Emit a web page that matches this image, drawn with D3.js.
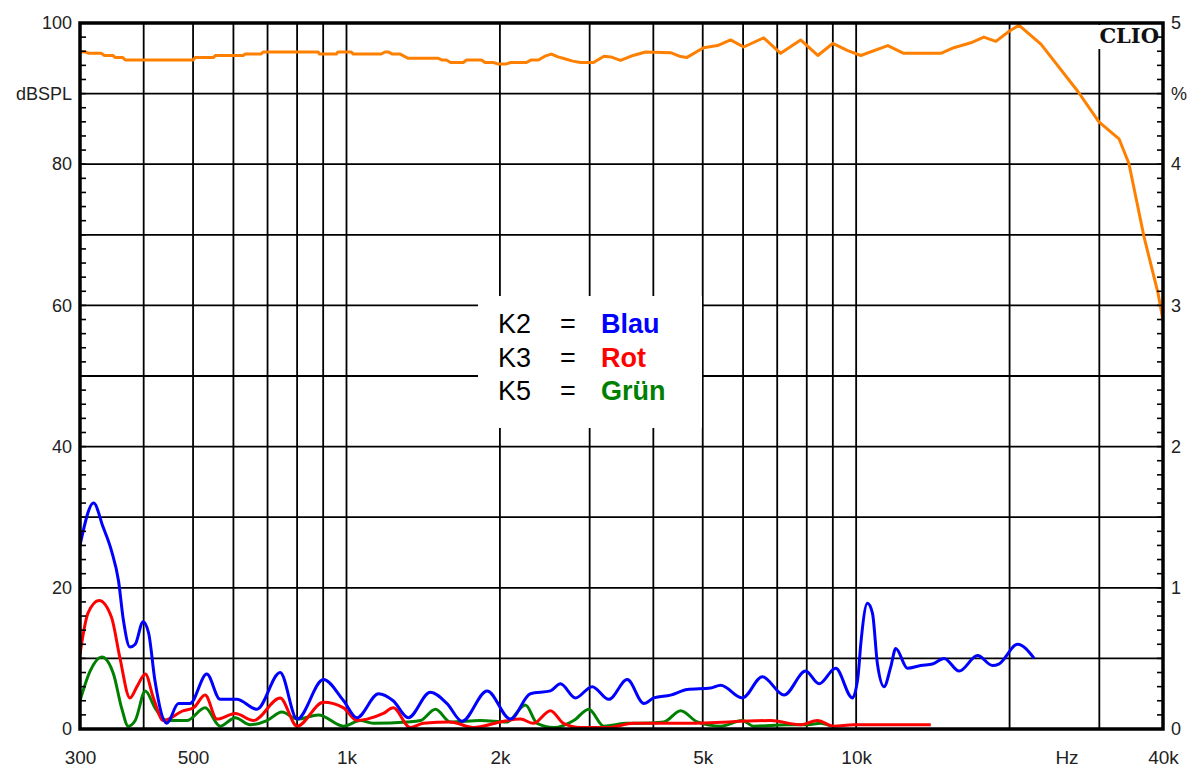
<!DOCTYPE html>
<html>
<head>
<meta charset="utf-8">
<script src="https://cdn.jsdelivr.net/npm/d3@7"></script>
<style>
  body { margin: 0; background: #fff; }
  svg { display: block; font-family: "Liberation Sans", Arial, sans-serif; }
</style>
</head>
<body>
<div id="chart"></div>
<script>
// frequency response, dBSPL (left axis)
var splFreq = [300, 307, 312, 330, 335, 348, 352, 364, 368, 500, 505, 548, 553, 627, 632, 680, 686, 880, 885, 955, 962, 1022, 1030, 1170, 1190, 1208, 1230, 1275, 1320, 1515, 1540, 1570, 1600, 1695, 1720, 1840, 1870, 1942, 1980, 2060, 2100, 2254, 2300, 2380, 2450, 2524, 2600, 2690, 2780, 2878, 3052, 3200, 3300, 3450, 3650, 3861, 4324, 4500, 4647, 5019, 5347, 5670, 6016, 6586, 7110, 7781, 8408, 8998, 9628, 10210, 11535, 12400, 14660, 15545, 16786, 17805, 18797, 19935, 20856, 23040, 24105, 27235, 29946, 32790, 34290, 36715, 39120, 40000];
var splDb = [95.9, 95.9, 95.7, 95.7, 95.4, 95.4, 95.1, 95.1, 94.75, 94.75, 95.1, 95.1, 95.4, 95.4, 95.6, 95.6, 95.9, 95.9, 95.6, 95.6, 95.9, 95.9, 95.6, 95.6, 95.9, 95.9, 95.6, 95.6, 95.0, 95.0, 94.75, 94.75, 94.4, 94.4, 94.75, 94.75, 94.4, 94.4, 94.2, 94.2, 94.4, 94.4, 94.75, 94.75, 95.3, 95.6, 95.2, 94.9, 94.6, 94.4, 94.4, 95.3, 95.2, 94.7, 95.4, 95.9, 95.8, 95.3, 95.1, 96.5, 96.8, 97.6, 96.6, 97.9, 95.7, 97.6, 95.4, 97.1, 96.1, 95.4, 96.8, 95.7, 95.7, 96.5, 97.2, 98.0, 97.4, 98.8, 99.7, 97.0, 95.2, 90.3, 86.0, 83.6, 80.1, 69.7, 61.7, 57.9];

// harmonic distortion, % (right axis)
var k2Freq = [300, 319, 333, 346, 357, 365, 376, 385, 399, 409, 421, 444, 468, 493, 532, 565, 609, 667, 741, 800, 901, 987, 1048, 1156, 1235, 1322, 1460, 1575, 1685, 1888, 2097, 2295, 2513, 2629, 2813, 3034, 3271, 3555, 3833, 4009, 4324, 4662, 5181, 5421, 5980, 6546, 7219, 7959, 8454, 9117, 9831, 10083, 10210, 10524, 10764, 11010, 11344, 11692, 11959, 12608, 13391, 14118, 14880, 15925, 17305, 18514, 19049, 20738, 22352];
var k2Pct = [1.30, 1.60, 1.43, 1.26, 1.05, 0.77, 0.58, 0.60, 0.76, 0.68, 0.34, 0.04, 0.18, 0.18, 0.39, 0.21, 0.21, 0.14, 0.40, 0.07, 0.35, 0.20, 0.08, 0.25, 0.20, 0.08, 0.26, 0.18, 0.055, 0.27, 0.07, 0.25, 0.27, 0.32, 0.22, 0.30, 0.21, 0.35, 0.18, 0.22, 0.24, 0.28, 0.29, 0.31, 0.22, 0.37, 0.24, 0.41, 0.32, 0.43, 0.22, 0.37, 0.60, 0.89, 0.82, 0.46, 0.30, 0.44, 0.57, 0.43, 0.45, 0.46, 0.50, 0.41, 0.52, 0.45, 0.46, 0.60, 0.50];

var k3Freq = [300, 311, 327, 346, 359, 376, 388, 403, 418, 437, 479, 501, 528, 557, 605, 657, 741, 800, 901, 987, 1048, 1097, 1181, 1235, 1334, 1415, 1599, 1774, 2004, 2194, 2327, 2513, 2665, 2878, 3247, 3658, 4662, 6796, 7781, 8393, 9035, 9890, 14009];
var k3Pct = [0.53, 0.82, 0.91, 0.79, 0.51, 0.22, 0.30, 0.39, 0.22, 0.06, 0.13, 0.15, 0.24, 0.07, 0.11, 0.06, 0.22, 0.02, 0.19, 0.15, 0.06, 0.07, 0.11, 0.15, 0.01, 0.04, 0.05, 0.01, 0.05, 0.07, 0.04, 0.13, 0.04, 0.01, 0.01, 0.04, 0.04, 0.06, 0.03, 0.06, 0.02, 0.03, 0.03];

var k5Freq = [300, 314, 331, 349, 362, 373, 385, 403, 421, 444, 486, 528, 565, 605, 647, 698, 747, 800, 881, 987, 1064, 1129, 1314, 1396, 1495, 1599, 1832, 2066, 2244, 2366, 2551, 2792, 2988, 3199, 3555, 3776, 4194, 4525, 4878, 5421, 5980, 6293, 7329, 8025, 8520, 8914];
var k5Pct = [0.20, 0.41, 0.51, 0.39, 0.15, 0.02, 0.06, 0.27, 0.15, 0.06, 0.06, 0.15, 0.02, 0.08, 0.03, 0.06, 0.12, 0.07, 0.10, 0.02, 0.06, 0.04, 0.05, 0.06, 0.14, 0.05, 0.06, 0.05, 0.17, 0.04, 0.01, 0.06, 0.14, 0.02, 0.04, 0.04, 0.05, 0.13, 0.05, 0.02, 0.06, 0.02, 0.03, 0.03, 0.04, 0.02];

// axes
var xTickValues = [300, 500, 1000, 2000, 5000, 10000, 40000];
var xTickLabels = ["300", "500", "1k", "2k", "5k", "10k", "40k"];
var gridFreqs = [400, 500, 600, 700, 800, 900, 1000, 2000, 3000, 4000, 5000, 6000, 7000, 8000, 9000, 10000, 20000, 30000];
var gridDb = [10, 20, 30, 40, 50, 60, 70, 80, 90];
var leftTickValues = [0, 20, 40, 60, 80, 90, 100];
var leftTickLabels = ["0", "20", "40", "60", "80", "dBSPL", "100"];
var rightTickValues = [0, 1, 2, 3, 4, 4.5, 5];
var rightTickLabels = ["0", "1", "2", "3", "4", "%", "5"];

// legend
var legendKeys = ["K2", "K3", "K5"];
var legendNames = ["Blau", "Rot", "Grün"];
var legendColors = ["#0000ff", "#ff0000", "#008000"];

var margin = {top: 23, right: 33, bottom: 42, left: 80},
    width = 1196 - margin.left - margin.right,
    height = 771 - margin.top - margin.bottom;

var svg = d3.select("#chart")
  .append("svg")
    .attr("width", 1196)
    .attr("height", 771)
  .append("g")
    .attr("transform", "translate(" + margin.left + "," + margin.top + ")");

var x = d3.scaleLog().domain([300, 40000]).range([0, width]);
var yL = d3.scaleLinear().domain([0, 100]).range([height, 0]);
var yR = d3.scaleLinear().domain([0, 5]).range([height, 0]);

svg.append("clipPath").attr("id", "plotClip")
  .append("rect").attr("width", width).attr("height", height);

// grid
svg.append("g").selectAll("line").data(gridFreqs).enter().append("line")
  .attr("x1", function(d) { return x(d); }).attr("x2", function(d) { return x(d); })
  .attr("y1", 0).attr("y2", height)
  .attr("stroke", "#000").attr("stroke-width", 1.8);
svg.append("g").selectAll("line").data(gridDb).enter().append("line")
  .attr("x1", 0).attr("x2", width)
  .attr("y1", function(d) { return yL(d); }).attr("y2", function(d) { return yL(d); })
  .attr("stroke", "#000").attr("stroke-width", 1.8);

// legend box (covers grid)
var lg = svg.append("g").attr("transform", "translate(" + (478 - margin.left) + "," + (296 - margin.top) + ")");
lg.append("rect").attr("width", 224).attr("height", 132).attr("fill", "#fff");
legendKeys.forEach(function(k, i) {
  var yy = 37 + i * 33.5;
  lg.append("text").attr("x", 20).attr("y", yy).attr("font-size", 27).attr("fill", "#000").text(k);
  lg.append("text").attr("x", 90).attr("y", yy).attr("font-size", 27).attr("text-anchor", "middle").attr("fill", "#000").text("=");
  lg.append("text").attr("x", 123).attr("y", yy).attr("font-size", 27).attr("font-weight", "bold")
    .attr("fill", legendColors[i]).text(legendNames[i]);
});

// CLIO mark
svg.append("rect").attr("x", width - 68).attr("y", 2).attr("width", 66).attr("height", 24).attr("fill", "#fff");
svg.append("text")
  .attr("x", width - 4).attr("y", 20)
  .attr("text-anchor", "end")
  .style("font-family", "'DejaVu Serif', 'Liberation Serif', serif")
  .attr("font-weight", "bold").attr("font-size", 21)
  .attr("fill", "#111")
  .text("CLIO");

// curves
function zip(a, b) { return a.map(function(v, i) { return [v, b[i]]; }); }

var linePct = d3.line()
  .x(function(d) { return x(d[0]); })
  .y(function(d) { return yR(d[1]); })
  .curve(d3.curveMonotoneX);

var lineSpl = d3.line()
  .x(function(d) { return x(d[0]); })
  .y(function(d) { return yL(d[1]); });

var curves = svg.append("g").attr("clip-path", "url(#plotClip)");
[[k5Freq, k5Pct, "#008000"], [k3Freq, k3Pct, "#ff0000"], [k2Freq, k2Pct, "#0000ff"]].forEach(function(s) {
  curves.append("path")
    .datum(zip(s[0], s[1]))
    .attr("fill", "none")
    .attr("stroke", s[2])
    .attr("stroke-width", 3)
    .attr("stroke-linejoin", "round")
    .attr("d", linePct);
});
curves.append("path")
  .datum(zip(splFreq, splDb))
  .attr("fill", "none")
  .attr("stroke", "#ff8000")
  .attr("stroke-width", 3)
  .attr("stroke-linejoin", "round")
  .attr("d", lineSpl);

// frame
svg.append("rect").attr("width", width).attr("height", height)
  .attr("fill", "none").attr("stroke", "#000").attr("stroke-width", 3.5);

// minor ticks every 2 dB
var minor = d3.range(2, 100, 2);
svg.append("g").selectAll("line").data(minor).enter().append("line")
  .attr("x1", 0).attr("x2", 6)
  .attr("y1", function(d) { return yL(d); }).attr("y2", function(d) { return yL(d); })
  .attr("stroke", "#000").attr("stroke-width", 1.6);
svg.append("g").selectAll("line").data(minor).enter().append("line")
  .attr("x1", width - 6).attr("x2", width)
  .attr("y1", function(d) { return yL(d); }).attr("y2", function(d) { return yL(d); })
  .attr("stroke", "#000").attr("stroke-width", 1.6);

// axis labels
var leftAxis = svg.append("g")
  .call(d3.axisLeft(yL).tickValues(leftTickValues).tickSize(0).tickPadding(8)
    .tickFormat(function(d, i) { return leftTickLabels[i]; }));
var rightAxis = svg.append("g")
  .attr("transform", "translate(" + width + ",0)")
  .call(d3.axisRight(yR).tickValues(rightTickValues).tickSize(0).tickPadding(8)
    .tickFormat(function(d, i) { return rightTickLabels[i]; }));
var bottomAxis = svg.append("g")
  .attr("transform", "translate(0," + height + ")")
  .call(d3.axisBottom(x).tickValues(xTickValues).tickSize(0).tickPadding(22)
    .tickFormat(function(d, i) { return xTickLabels[i]; }));

[leftAxis, rightAxis, bottomAxis].forEach(function(a) {
  a.select(".domain").remove();
  a.selectAll("text").attr("font-size", 18).attr("fill", "#222")
    .style("font-family", "'Liberation Sans', Arial, sans-serif");
});
bottomAxis.selectAll("text").attr("font-size", 19);

svg.append("text")
  .attr("x", width - 96).attr("y", height + 35)
  .attr("text-anchor", "middle")
  .attr("font-size", 19).attr("fill", "#222")
  .text("Hz");
</script>
</body>
</html>
